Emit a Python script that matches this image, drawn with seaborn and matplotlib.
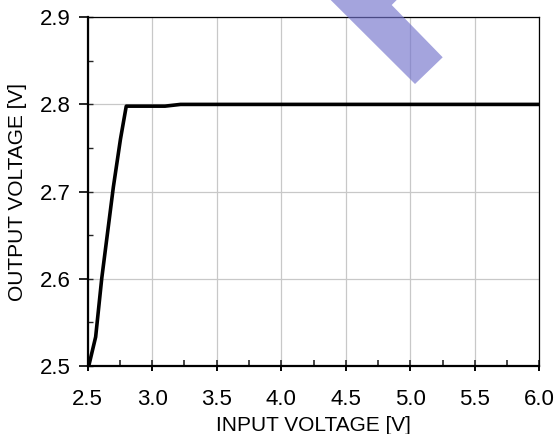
import numpy as np
import pandas as pd
import seaborn as sns
import matplotlib.pyplot as plt
from matplotlib.patches import Polygon
from matplotlib.ticker import MultipleLocator

# Valores
tensao_entrada = [2.51, 2.563, 2.61, 2.70, 2.755, 2.80, 3.10, 3.22, 6.00]
tensao_saida = [2.50, 2.533, 2.60, 2.705, 2.76, 2.798, 2.798, 2.800, 2.800]

x_ticks = [2.5, 3.0, 3.5, 4.0, 4.5, 5.0, 5.5, 6.0]
y_ticks = [2.5, 2.6, 2.7, 2.8, 2.9]

df = pd.DataFrame({'entrada': tensao_entrada, 'saida': tensao_saida})

sns.set_style('white')
plt.rcParams['font.family'] = ['Liberation Sans', 'DejaVu Sans']

fig = plt.figure(figsize=(5.56, 4.34), dpi=100)
ax = fig.add_axes([0.1574, 0.1574, 0.9703 - 0.1574, 0.9601 - 0.1574])

sns.lineplot(data=df, x='entrada', y='saida', color='black', linewidth=2.6,
             estimator=None, sort=False, ax=ax, zorder=3)

ax.set_xlim(2.5, 6.0)
ax.set_ylim(2.5, 2.9)
ax.set_xticks(x_ticks)
ax.set_yticks(y_ticks)
ax.set_xticklabels([f'{v:.1f}' for v in x_ticks])
ax.set_yticklabels([f'{v:.1f}' for v in y_ticks])
ax.xaxis.set_minor_locator(MultipleLocator(0.25))
ax.yaxis.set_minor_locator(MultipleLocator(0.05))
ax.xaxis.remove_overlapping_locs = False
ax.yaxis.remove_overlapping_locs = False

ax.grid(True, which='major', color='#c8c8c8', linewidth=0.9)
ax.set_axisbelow(True)

for lado in ['top', 'right']:
    ax.spines[lado].set_linewidth(0.9)
    ax.spines[lado].set_color('black')
for lado in ['left', 'bottom']:
    ax.spines[lado].set_linewidth(1.6)
    ax.spines[lado].set_color('black')

ax.tick_params(axis='x', which='major', direction='out', length=3.8, width=1.4,
               pad=13, labelsize=16, colors='black', bottom=True)
ax.tick_params(axis='x', which='minor', direction='in', length=4.3, width=1.2,
               bottom=True)
ax.tick_params(axis='y', which='major', direction='out', length=6.5, width=1.2,
               pad=5.5, labelsize=16, colors='black', left=True)
ax.tick_params(axis='y', which='minor', direction='in', length=3.6, width=1.0,
               left=True)

ax.set_xlabel('INPUT VOLTAGE [V]', fontsize=15, labelpad=4, color='black')
ax.set_ylabel('OUTPUT VOLTAGE [V]', fontsize=15, labelpad=9, color='black')

# Marca d'água azul no topo
W, H = 556, 434
pts = [(330.7, 0), (396.7, 0), (391.7, 5), (442.7, 57.3), (415, 84)]
marca = Polygon([(px / W, 1 - py / H) for px, py in pts], closed=True,
                transform=fig.transFigure, facecolor=(0.45, 0.45, 0.8),
                edgecolor='none', alpha=0.65, zorder=10)
fig.patches.append(marca)

fig.savefig('out.png', dpi=100)
